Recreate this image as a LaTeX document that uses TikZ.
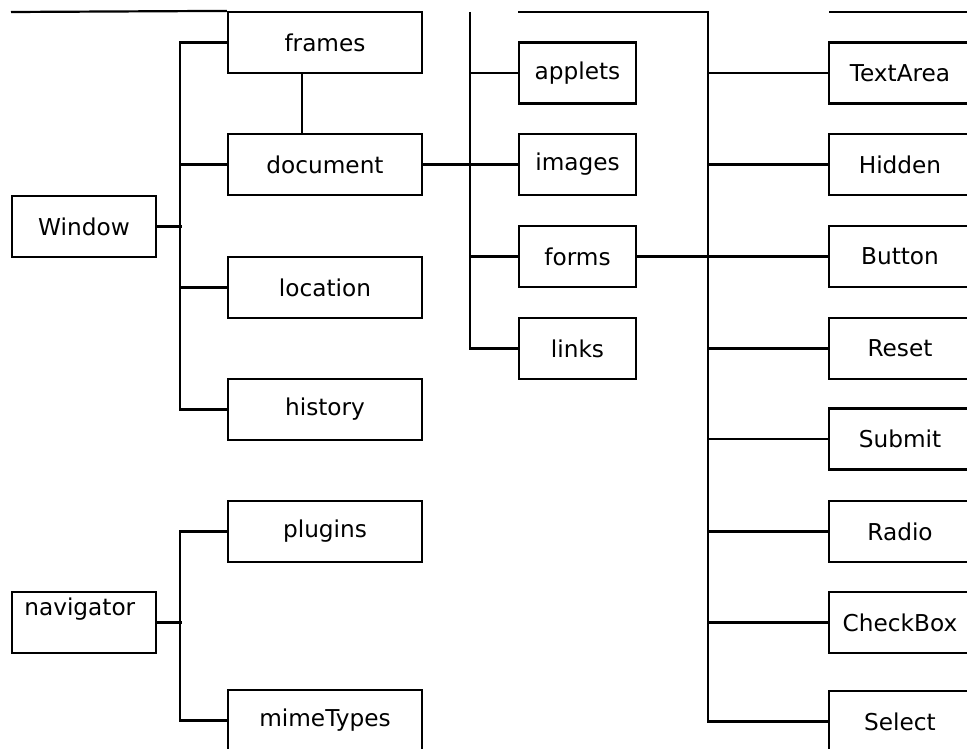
\documentclass[tikz,border=0pt]{standalone}
\usepackage{fontspec}
\setmainfont{DejaVu Sans}
\begin{document}
\begin{tikzpicture}[x=1bp,y=-1bp,line width=2.2bp,
  txt/.style={font=\fontsize{23.3}{28}\selectfont},
  box/.style={draw,line width=2.2bp,inner sep=0pt,minimum height=61bp,txt},
  rootbox/.style={box,minimum width=144bp},
  lbox/.style={box,minimum width=194bp},
  mbox/.style={box,minimum width=117bp},
  rbox/.style={box,minimum width=142bp}]
\useasboundingbox (0,0) rectangle (967,749);
\clip (0,0) rectangle (967,749);
% roots
\node[rootbox] (win) at (84,226.5) {Window};
\node[rootbox,label={[anchor=base west,xshift=9bp,yshift=-25bp,txt]north west:navigator}] (nav) at (84,622.5) {};
% left column
\node[lbox] (frames) at (325,42.5) {frames};
\node[lbox] (document) at (325,164.5) {document};
\node[lbox] (location) at (325,287.5) {location};
\node[lbox] (history) at (325,409.5) {history};
\node[lbox] (plugins) at (325,531.5) {plugins};
\node[lbox] (mime) at (325,720.5) {mimeTypes};
% middle column
\node[mbox] (applets) at (577.5,73) {applets};
\node[mbox] (images) at (577.5,164.5) {images};
\node[mbox] (forms) at (577.5,256.5) {forms};
\node[mbox] (links) at (577.5,348.5) {links};
% right column
\node[rbox] (textarea) at (900,73) {TextArea};
\node[rbox] (hidden) at (900,164.5) {Hidden};
\node[rbox] (button) at (900,256.5) {Button};
\node[rbox] (reset) at (900,348.5) {Reset};
\node[rbox] (submit) at (900,439) {Submit};
\node[rbox] (radio) at (900,531.5) {Radio};
\node[rbox] (checkbox) at (900,622.5) {CheckBox};
\node[rbox] (select) at (900,721.5) {Select};
% fragments at the top
\coordinate (tl) at (11,12);
\coordinate (tm) at (518,12);
\coordinate (tr) at (829,12);
\coordinate (te) at (970,12);
\coordinate (tv) at (470,12);
\draw (tl) -- (frames.north west);
\draw (tr) -- (te);
% Window tree
\draw (win.east) -- ++(25,0);
\draw (frames.west) -- ++(-47,0) |- (history.west);
\draw (document.west) -- ++(-47,0);
\draw (location.west) -- ++(-47,0);
\draw ([xshift=-23bp]frames.south) -- ([xshift=-23bp]document.north);
% document tree
\draw (document.east) -- (images.west);
\draw (tv) |- (links.west);
\draw (applets.west) -- ++(-49,0);
\draw (forms.west) -- ++(-49,0);
% forms tree
\draw (forms.east) -- (button.west);
\draw (tm) -| (708,400) |- (select.west);
\foreach \n in {textarea,hidden,reset,submit,radio,checkbox}
  \draw (\n.west) -- ++(-121,0);
% navigator tree
\draw (nav.east) -- ++(25,0);
\draw (plugins.west) -- ++(-47,0) |- (mime.west);
\end{tikzpicture}
\end{document}
